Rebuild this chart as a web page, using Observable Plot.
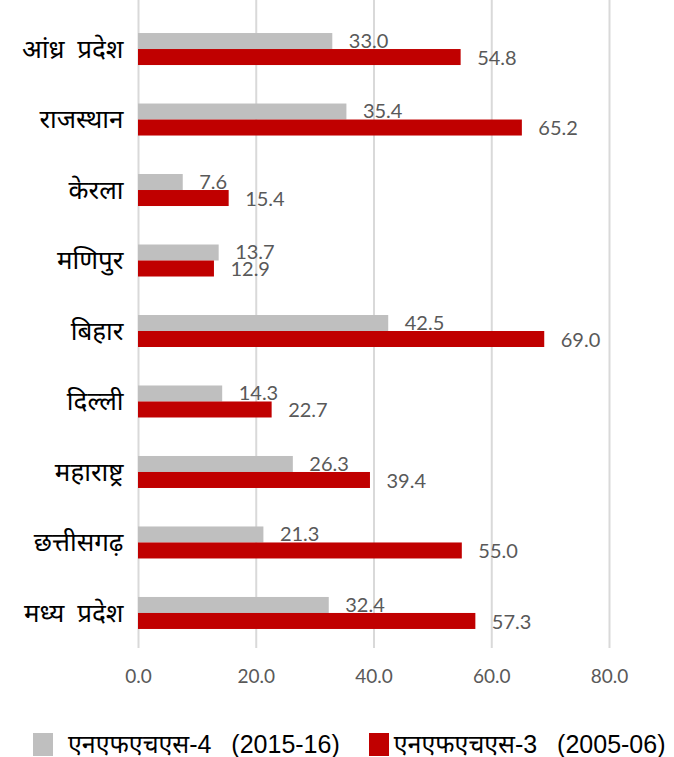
<!DOCTYPE html>
<html>
<head>
<meta charset="utf-8">
<script src="https://cdn.jsdelivr.net/npm/d3@7"></script>
<script src="https://cdn.jsdelivr.net/npm/@observablehq/plot@0.6"></script>
<style>
  html, body { margin: 0; padding: 0; background: #fff; }
  body { width: 674px; height: 757px; overflow: hidden; font-family: "Noto Sans", "Noto Sans Devanagari", sans-serif; }
  #legend { display: flex; align-items: center; margin-top: 34px; font-family: "Liberation Sans", Arial, "Noto Sans Devanagari", sans-serif; font-size: 25px; color: #000; line-height: 24px; word-spacing: 3px; }
  .sw { display: inline-block; width: 20px; height: 23px; }
  [aria-label="y-axis tick label"] text { word-spacing: 6px; }
</style>
</head>
<body>
<div id="chart"></div>
<div id="legend"></div>
<script>
const states = ["आंध्र प्रदेश", "राजस्थान", "केरला", "मणिपुर", "बिहार", "दिल्ली", "महाराष्ट्र", "छत्तीसगढ़", "मध्य प्रदेश"];
const nfhs4 = [33.0, 35.4, 7.6, 13.7, 42.5, 14.3, 26.3, 21.3, 32.4];
const nfhs3 = [54.8, 65.2, 15.4, 12.9, 69.0, 22.7, 39.4, 55.0, 57.3];
const seriesNames = ["एनएफएचएस-4  (2015-16)", "एनएफएचएस-3  (2005-06)"];
const seriesColors = ["#bfbfbf", "#c00000"];
const xTicks = [0, 20, 40, 60, 80];

const d4 = states.map((s, i) => ({state: s, value: nfhs4[i]}));
const d3v = states.map((s, i) => ({state: s, value: nfhs3[i]}));

const fmt = d3.format(".1f");
const numFont = "Lato, 'Open Sans', sans-serif";

const chart = Plot.plot({
  width: 674,
  height: 698,
  marginTop: 14,
  marginBottom: 50,
  marginLeft: 138,
  marginRight: 65,
  style: {fontFamily: "'Noto Sans', 'Noto Sans Devanagari', sans-serif", background: "#fff"},
  x: {domain: [0, 80], ticks: xTicks, tickFormat: fmt, label: null},
  y: {domain: states, paddingInner: 0.546, paddingOuter: 0.27, round: false, label: null},
  marks: [
    Plot.ruleX(xTicks, {stroke: "#d9d9d9", strokeWidth: 2, insetTop: -14}),
    Plot.barX(d4, {x: "value", y: "state", fill: seriesColors[0], insetBottom: 16}),
    Plot.barX(d3v, {x: "value", y: "state", fill: seriesColors[1], insetTop: 16}),
    Plot.text(d4, {x: "value", y: "state", text: d => fmt(d.value), dx: 16, dy: -8, textAnchor: "start", fill: "#595959", fontSize: 20, fontFamily: numFont}),
    Plot.text(d3v, {x: "value", y: "state", text: d => fmt(d.value), dx: 16, dy: 9, textAnchor: "start", fill: "#595959", fontSize: 20, fontFamily: numFont}),
    Plot.axisX({ticks: xTicks, tickFormat: fmt, tickSize: 0, tickPadding: 21, fontSize: 19, fontFamily: numFont, color: "#595959", label: null}),
    Plot.axisY({tickSize: 0, tickPadding: 15, fontSize: 26, color: "#000", label: null})
  ]
});
document.getElementById("chart").appendChild(chart);

const legend = document.getElementById("legend");
const leftGaps = [33, 29];
const swGaps = [15, 5];
seriesNames.forEach((name, i) => {
  const item = document.createElement("span");
  item.style.display = "inline-flex";
  item.style.alignItems = "center";
  item.style.marginLeft = leftGaps[i] + "px";
  const sw = document.createElement("span");
  sw.className = "sw";
  sw.style.background = seriesColors[i];
  sw.style.marginRight = swGaps[i] + "px";
  item.appendChild(sw);
  const t = document.createElement("span");
  t.textContent = name;
  t.style.whiteSpace = "pre";
  item.appendChild(t);
  legend.appendChild(item);
});
</script>
</body>
</html>
